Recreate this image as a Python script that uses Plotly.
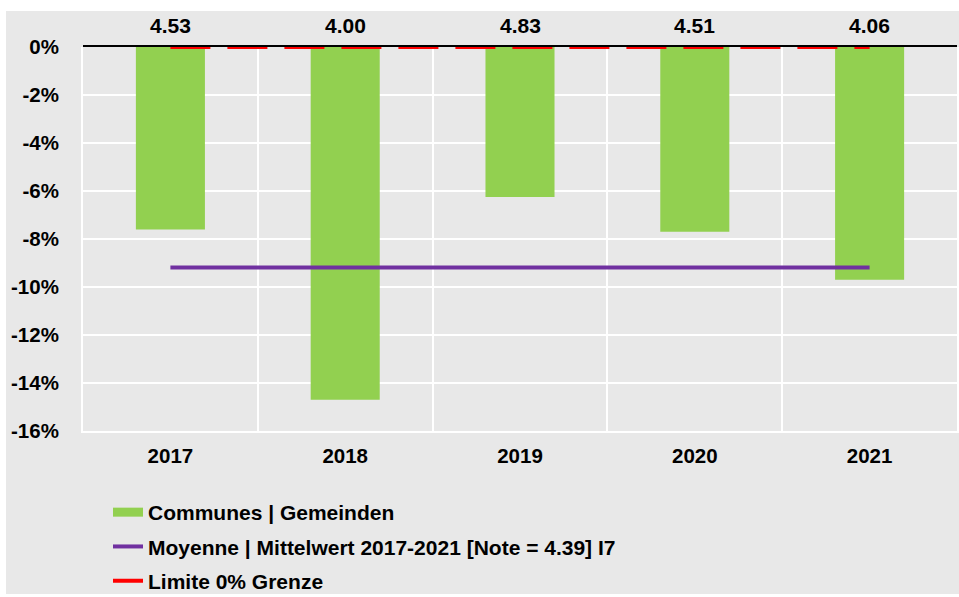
import plotly.graph_objects as go

# Annual results of the municipalities (percent) and their grades
years = ["2017", "2018", "2019", "2020", "2021"]
communes = [-7.6, -14.7, -6.25, -7.7, -9.7]
notes = ["4.53", "4.00", "4.83", "4.51", "4.06"]
limit = [0, 0, 0, 0, 0]

y_ticks = [0, -2, -4, -6, -8, -10, -12, -14, -16]
y_ticktext = [f"{v}%" for v in y_ticks]

mean_value = sum(communes) / len(communes)

GREEN = "#92d050"
PURPLE = "#7030a0"
RED = "#ff0000"
PANEL = "#e8e8e8"
FONT = "Liberation Sans, Arial, sans-serif"

# plot area in pixels
L, R, T, B = 83, 957, 47, 431
PW, PH = R - L, B - T

fig = go.Figure()

# Bars
fig.add_trace(go.Bar(
    x=years, y=communes, marker=dict(color=GREEN, line=dict(width=0)),
    width=0.395, showlegend=False, hoverinfo="x+y",
))

# Legend entry for the bars (wide rectangular swatch)
fig.add_trace(go.Scatter(
    x=[years[0]], y=[None], mode="lines", name="Communes | Gemeinden",
    line=dict(color=GREEN, width=9), legendgroup="a",
))

# Mean line across the period
fig.add_trace(go.Scatter(
    x=years, y=[mean_value] * len(years), mode="lines",
    name="Moyenne | Mittelwert 2017-2021 [Note = 4.39] I7",
    line=dict(color=PURPLE, width=4), legendgroup="b",
))

# 0% limit
fig.add_trace(go.Scatter(
    x=years, y=limit, mode="lines", name="Limite 0% Grenze",
    line=dict(color=RED, width=4, dash="40px,17px"), legendgroup="c",
    cliponaxis=False,
))

# Grade labels above each year (category index positions)
for i, n in enumerate(notes):
    fig.add_annotation(
        x=i, xref="x", y=1, yref="paper", text=n, showarrow=False,
        yanchor="middle", yshift=22,
        font=dict(family=FONT, size=21, color="black", weight="bold"),
    )

# Grey panel behind everything, black axis line at 0% on top
fig.add_shape(
    type="rect", xref="paper", yref="paper", layer="below",
    x0=(6 - L) / PW, x1=(959 - L) / PW,
    y0=(B - 594) / PH, y1=(B - 11) / PH,
    fillcolor=PANEL, line=dict(width=0),
)
fig.add_shape(
    type="line", xref="paper", yref="paper",
    x0=0, x1=1, y0=1 + 1 / PH, y1=1 + 1 / PH,
    line=dict(color="black", width=2), layer="above",
)

fig.update_layout(
    width=959, height=597,
    margin=dict(l=L, r=959 - R, t=T, b=597 - B, autoexpand=False),
    paper_bgcolor="white", plot_bgcolor="rgba(0,0,0,0)",
    font=dict(family=FONT, color="black"),
    legend=dict(
        x=(108 - L) / PW, y=(B - 492) / PH,
        xanchor="left", yanchor="top", bgcolor="rgba(0,0,0,0)",
        font=dict(family=FONT, size=21, color="black", weight="bold"),
        tracegroupgap=4, traceorder="grouped",
    ),
    xaxis=dict(
        type="category", categoryorder="array", categoryarray=years,
        range=[-0.5, 4.5], tickson="boundaries", showgrid=True,
        gridcolor="white", gridwidth=2, showline=True, linecolor="white",
        linewidth=2, ticks="outside", ticklen=15, tickcolor="rgba(0,0,0,0)",
        ticklabelstandoff=5, tickangle=0,
        tickfont=dict(family=FONT, size=20.5, color="black", weight="bold"),
        fixedrange=True,
    ),
    yaxis=dict(
        range=[-16, 0], tickvals=y_ticks, ticktext=y_ticktext,
        showgrid=True, gridcolor="white", gridwidth=2, zeroline=False,
        showline=True, linecolor="white", linewidth=2, mirror=True,
        ticks="outside", ticklen=18, tickcolor="rgba(0,0,0,0)",
        tickfont=dict(family=FONT, size=20.5, color="black", weight="bold"),
        fixedrange=True,
    ),
)

fig.write_html("out.html")
